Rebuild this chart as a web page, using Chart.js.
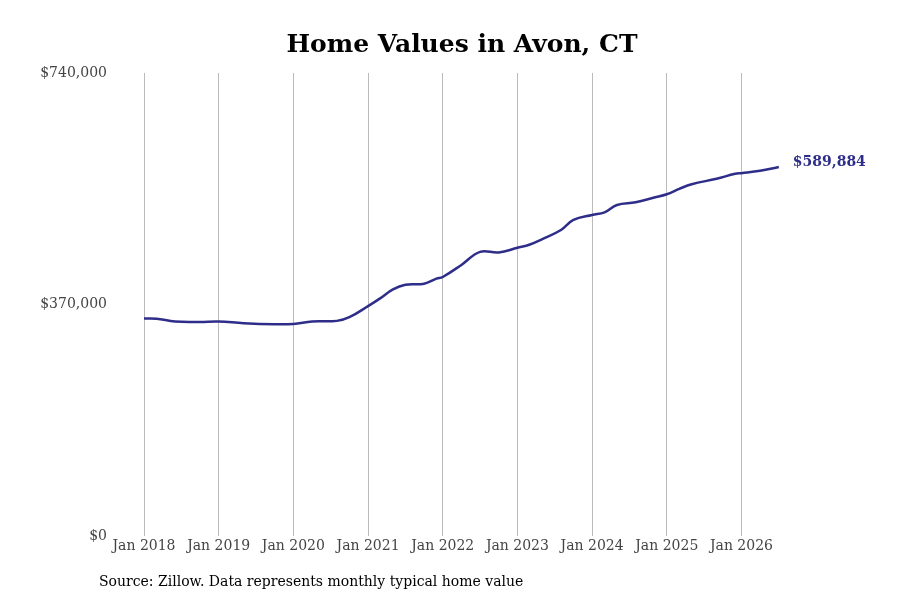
<!DOCTYPE html>
<html>
<head>
<meta charset="utf-8">
<script src="https://cdn.jsdelivr.net/npm/chart.js@4"></script>
<style>
  html, body { margin: 0; padding: 0; background: #fff; }
  #wrap { width: 900px; height: 600px; }
</style>
</head>
<body>
<div id="wrap"><canvas id="myChart"></canvas></div>
<script>
// months counted from Jan 2018
const months = [0, 2, 5, 9, 12, 16, 21, 24, 27, 31, 33, 36, 38, 40, 42, 45, 47, 48, 51, 54, 57, 60,
  62, 64, 67, 69, 72, 74, 76, 79, 82, 84, 86, 88, 92, 95, 96, 99, 102];
const homeValues = [347850, 347500, 343000, 342400, 343000, 340300, 338700, 339200, 343000, 344000,
  349900, 367600, 380400, 394400, 401800, 403400, 411400, 414100, 433400, 454300, 453200, 460700,
  466000, 474700, 489100, 505200, 513200, 517400, 529200, 533400, 541000, 546300, 554900, 562300,
  571000, 579000, 580000, 583800, 589884];
const tickMonths = [0, 12, 24, 36, 48, 60, 72, 84, 96];
const tickLabels = ["Jan 2018", "Jan 2019", "Jan 2020", "Jan 2021", "Jan 2022", "Jan 2023", "Jan 2024", "Jan 2025", "Jan 2026"];
const yTicks = [0, 370000, 740000];
const lastLabel = "$589,884";

const lineColor = "#2e2e8a";
const serif = "'DejaVu Serif', serif";

const points = months.map((m, i) => ({ x: m, y: homeValues[i] }));

const textPlugin = {
  id: "texts",
  afterDraw(chart) {
    const ctx = chart.ctx;
    ctx.save();
    ctx.fillStyle = "#000";
    ctx.font = "bold 25px " + serif;
    ctx.textAlign = "center";
    ctx.textBaseline = "middle";
    ctx.fillText("Home Values in Avon, CT", 462, 45);

    ctx.font = "14px " + serif;
    ctx.textAlign = "left";
    ctx.fillText("Source: Zillow. Data represents monthly typical home value", 99, 582);

    const last = chart.getDatasetMeta(0).data[homeValues.length - 1];
    ctx.fillStyle = lineColor;
    ctx.font = "bold 14px " + serif;
    ctx.fillText(lastLabel, last.x + 14, last.y - 5);
    ctx.restore();
  }
};

new Chart("myChart", {
  type: "line",
  data: {
    datasets: [{
      data: points,
      borderColor: lineColor,
      borderWidth: 2.5,
      pointRadius: 0,
      tension: 0.4,
      fill: false
    }]
  },
  options: {
    responsive: true,
    maintainAspectRatio: false,
    animation: false,
    layout: { padding: { top: 73, right: 110, bottom: 43, left: 0 } },
    plugins: { legend: { display: false }, tooltip: { enabled: false } },
    scales: {
      x: {
        type: "linear",
        min: -4.66,
        max: 103.8,
        border: { display: false },
        grid: { color: "#bbbbbb", drawTicks: false },
        afterBuildTicks: (scale) => { scale.ticks = tickMonths.map(v => ({ value: v })); },
        ticks: {
          padding: 2,
          color: "#444",
          font: { family: serif, size: 14 },
          maxRotation: 0,
          callback: (v) => tickLabels[tickMonths.indexOf(v)]
        }
      },
      y: {
        min: 0,
        max: 740000,
        border: { display: false },
        grid: { display: false },
        afterBuildTicks: (scale) => { scale.ticks = yTicks.map(v => ({ value: v })); },
        afterFit: (scale) => { scale.width = 115; },
        ticks: {
          padding: 0,
          color: "#444",
          font: { family: serif, size: 14 },
          callback: (v) => "$" + v.toLocaleString("en-US")
        }
      }
    }
  },
  plugins: [textPlugin]
});
</script>
</body>
</html>
